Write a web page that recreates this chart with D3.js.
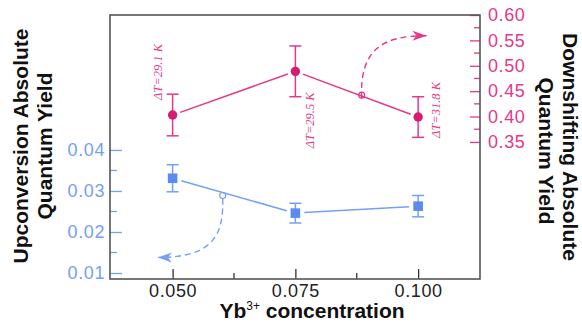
<!DOCTYPE html>
<html>
<head>
<meta charset="utf-8">
<script src="https://cdn.jsdelivr.net/npm/d3@7"></script>
<style>
  body { margin: 0; background: #fff; }
  svg { display: block; font-family: 'Liberation Sans', Arial, sans-serif; }
</style>
</head>
<body>
<main></main>
<script>
const concentrations = [0.05, 0.075, 0.1];
const upconversion = [0.0331, 0.0246, 0.0263];
const upconversionErr = [0.0033, 0.0024, 0.0026];
const downshifting = [0.403, 0.489, 0.399];
const downshiftingErr = [0.041, 0.05, 0.04];
const deltaT = ['ΔT=29.1 K', 'ΔT=29.5 K', 'ΔT=31.8 K'];

const xTicks = [0.05, 0.075, 0.1];
const xMinorTicks = [0.0625, 0.0875];
const leftTicks = [0.01, 0.02, 0.03, 0.04];
const leftMinorTicks = [0.015, 0.025, 0.035];
const rightTicks = [0.35, 0.4, 0.45, 0.5, 0.55, 0.6];
const rightMinorTicks = [0.375, 0.425, 0.475, 0.525, 0.575];

// arrows in data units: start, control 1, control 2, tip
const pinkArrow = [[0.0885, 0.442], [0.0881, 0.53], [0.0925, 0.56], [0.1017, 0.559]];
const blueArrow = [[0.0602, 0.0289], [0.0604, 0.0195], [0.0585, 0.0138], [0.047, 0.0138]];

const pink = '#e5388a';
const pinkDark = '#d81b72';
const blue = '#74a0f5';
const blueDark = '#5b8bef';

const dimensions = {
  width: 582,
  height: 325,
  margin: { top: 15, right: 102, bottom: 46, left: 110 },
};
dimensions.boundedWidth =
  dimensions.width - (dimensions.margin.left + dimensions.margin.right);
dimensions.boundedHeight =
  dimensions.height - (dimensions.margin.top + dimensions.margin.bottom);

const xScale = d3
  .scaleLinear()
  .domain([0.03725, 0.1126])
  .range([0, dimensions.boundedWidth]);

const yLeft = d3
  .scaleLinear()
  .domain([0.00854, 0.0729])
  .range([dimensions.boundedHeight, 0]);

const yRight = d3
  .scaleLinear()
  .domain([0.08, 0.6])
  .range([dimensions.boundedHeight, 0]);

const svg = d3
  .select('main')
  .append('svg')
  .attr('width', dimensions.width)
  .attr('height', dimensions.height);

const bounds = svg
  .append('g')
  .attr('transform', `translate(${dimensions.margin.left} ${dimensions.margin.top})`);

const axisFont = 18;

// bottom axis, ticks pointing inward
const xAxisGroup = bounds
  .append('g')
  .attr('transform', `translate(0 ${dimensions.boundedHeight})`)
  .call(
    d3.axisBottom(xScale)
      .tickValues(xTicks)
      .tickSize(-10)
      .tickPadding(5)
      .tickFormat(d3.format('.3f'))
  );
xAxisGroup
  .selectAll('line.minor')
  .data(xMinorTicks)
  .join('line')
  .attr('class', 'minor')
  .attr('x1', d => xScale(d))
  .attr('x2', d => xScale(d))
  .attr('y1', 0)
  .attr('y2', -6)
  .attr('stroke', '#333')
  .attr('stroke-width', 1.3);
xAxisGroup.selectAll('.tick line').attr('stroke', '#333').attr('stroke-width', 1.3);
xAxisGroup
  .selectAll('text')
  .attr('fill', '#222')
  .attr('font-size', axisFont)
  .attr('font-family', "'Liberation Sans', Arial, sans-serif")
  .attr('letter-spacing', 0.6);

// left axis (blue)
const leftAxisGroup = bounds.append('g').call(
  d3.axisLeft(yLeft)
    .tickValues(leftTicks)
    .tickSize(-12)
    .tickPadding(5)
    .tickFormat(d3.format('.2f'))
);
leftAxisGroup
  .selectAll('line.minor')
  .data(leftMinorTicks)
  .join('line')
  .attr('class', 'minor')
  .attr('x1', 0)
  .attr('x2', 7)
  .attr('y1', d => yLeft(d))
  .attr('y2', d => yLeft(d))
  .attr('stroke', blue)
  .attr('stroke-width', 1.3);
leftAxisGroup.selectAll('.tick line').attr('stroke', blue).attr('stroke-width', 1.3);
leftAxisGroup
  .selectAll('text')
  .attr('fill', blue)
  .attr('font-size', axisFont)
  .attr('font-family', "'Liberation Sans', Arial, sans-serif")
  .attr('letter-spacing', 0.6);

// right axis (pink)
const rightAxisGroup = bounds
  .append('g')
  .attr('transform', `translate(${dimensions.boundedWidth} 0)`)
  .call(
    d3.axisRight(yRight)
      .tickValues(rightTicks)
      .tickSize(-10)
      .tickPadding(8)
      .tickFormat(d3.format('.2f'))
  );
rightAxisGroup
  .selectAll('line.minor')
  .data(rightMinorTicks)
  .join('line')
  .attr('class', 'minor')
  .attr('x1', 0)
  .attr('x2', -6)
  .attr('y1', d => yRight(d))
  .attr('y2', d => yRight(d))
  .attr('stroke', pink)
  .attr('stroke-width', 1.3);
rightAxisGroup.selectAll('.tick line').attr('stroke', pink).attr('stroke-width', 1.3);
rightAxisGroup
  .selectAll('text')
  .attr('fill', pink)
  .attr('font-size', axisFont)
  .attr('font-family', "'Liberation Sans', Arial, sans-serif")
  .attr('letter-spacing', 0.6);

bounds.selectAll('path.domain').remove();

// frame
bounds
  .append('rect')
  .attr('width', dimensions.boundedWidth)
  .attr('height', dimensions.boundedHeight)
  .attr('fill', 'none')
  .attr('stroke', '#555')
  .attr('stroke-width', 1.6);

// connecting lines with a small gap at each marker
const drawSegments = (values, yScale, color, gap) => {
  const pts = values.map((v, i) => [xScale(concentrations[i]), yScale(v)]);
  d3.pairs(pts).forEach(([a, b]) => {
    const dx = b[0] - a[0];
    const dy = b[1] - a[1];
    const len = Math.hypot(dx, dy);
    bounds
      .append('line')
      .attr('x1', a[0] + (dx / len) * gap)
      .attr('y1', a[1] + (dy / len) * gap)
      .attr('x2', b[0] - (dx / len) * gap)
      .attr('y2', b[1] - (dy / len) * gap)
      .attr('stroke', color)
      .attr('stroke-width', 1.5);
  });
};

const drawErrors = (values, errs, yScale, color) => {
  const g = bounds.append('g').attr('stroke', color).attr('stroke-width', 1.5);
  values.forEach((v, i) => {
    const x = xScale(concentrations[i]);
    const y0 = yScale(v - errs[i]);
    const y1 = yScale(v + errs[i]);
    g.append('line').attr('x1', x).attr('x2', x).attr('y1', y0).attr('y2', y1);
    g.append('line').attr('x1', x - 6).attr('x2', x + 6).attr('y1', y0).attr('y2', y0);
    g.append('line').attr('x1', x - 6).attr('x2', x + 6).attr('y1', y1).attr('y2', y1);
  });
};

drawSegments(downshifting, yRight, pink, 8);
drawSegments(upconversion, yLeft, blue, 9);
drawErrors(downshifting, downshiftingErr, yRight, pink);
drawErrors(upconversion, upconversionErr, yLeft, blue);

bounds
  .selectAll('circle.ds')
  .data(downshifting)
  .join('circle')
  .attr('class', 'ds')
  .attr('cx', (d, i) => xScale(concentrations[i]))
  .attr('cy', d => yRight(d))
  .attr('r', 4.7)
  .attr('fill', pinkDark);

bounds
  .selectAll('rect.uc')
  .data(upconversion)
  .join('rect')
  .attr('class', 'uc')
  .attr('x', (d, i) => xScale(concentrations[i]) - 4.8)
  .attr('y', d => yLeft(d) - 4.8)
  .attr('width', 9.6)
  .attr('height', 9.6)
  .attr('fill', blueDark);

// ΔT labels
const labelOffsets = [[-11, -15], [19, 77], [22, 21]];
bounds
  .selectAll('text.dt')
  .data(deltaT)
  .join('text')
  .attr('class', 'dt')
  .attr('transform', (d, i) => {
    const x = xScale(concentrations[i]) + labelOffsets[i][0];
    const y = yRight(downshifting[i]) + labelOffsets[i][1];
    return `translate(${x} ${y}) rotate(-90)`;
  })
  .attr('fill', pink)
  .attr('font-family', "'Liberation Serif', 'Times New Roman', serif")
  .attr('font-style', 'italic')
  .attr('font-size', 12.5)
  .text(d => d);

// dashed curved arrows
const drawArrow = (pts, yScale, color) => {
  const p = pts.map(([x, y]) => [xScale(x), yScale(y)]);
  const path = d3.path();
  path.moveTo(p[0][0], p[0][1] + 3);
  path.bezierCurveTo(p[1][0], p[1][1], p[2][0], p[2][1], p[3][0], p[3][1]);
  bounds
    .append('path')
    .attr('d', path.toString())
    .attr('fill', 'none')
    .attr('stroke', color)
    .attr('stroke-width', 1.4)
    .attr('stroke-dasharray', '6 4');
  bounds
    .append('circle')
    .attr('cx', p[0][0])
    .attr('cy', p[0][1])
    .attr('r', 3)
    .attr('fill', 'none')
    .attr('stroke', color)
    .attr('stroke-width', 1.2);
  const angle = (Math.atan2(p[3][1] - p[2][1], p[3][0] - p[2][0]) * 180) / Math.PI;
  bounds
    .append('path')
    .attr('d', 'M 0 0 L -14 -5 L -10 0 L -14 5 Z')
    .attr('transform', `translate(${p[3][0]} ${p[3][1]}) rotate(${angle})`)
    .attr('fill', color);
};

drawArrow(pinkArrow, yRight, pink);
drawArrow(blueArrow, yLeft, blue);

// axis titles
const titleFont = 21;
const leftTitle = svg
  .append('text')
  .attr('transform', 'translate(0 146) rotate(-90)')
  .attr('text-anchor', 'middle')
  .attr('font-weight', 'bold')
  .attr('font-size', titleFont)
  .attr('fill', '#111');
leftTitle.append('tspan').attr('x', 0).attr('y', 28).text('Upconversion Absolute');
leftTitle.append('tspan').attr('x', 0).attr('y', 52).text('Quantum Yield');

const rightTitle = svg
  .append('text')
  .attr('transform', 'translate(0 147) rotate(90)')
  .attr('text-anchor', 'middle')
  .attr('font-weight', 'bold')
  .attr('font-size', titleFont)
  .attr('fill', '#111');
rightTitle.append('tspan').attr('x', 0).attr('y', -563).text('Downshifting Absolute');
rightTitle.append('tspan').attr('x', 4).attr('y', -539).text('Quantum Yield');

const xTitle = svg
  .append('text')
  .attr('x', 312)
  .attr('y', 318)
  .attr('text-anchor', 'middle')
  .attr('font-weight', 'bold')
  .attr('font-size', titleFont)
  .attr('fill', '#111');
xTitle.append('tspan').text('Yb');
xTitle
  .append('tspan')
  .attr('font-size', 12)
  .attr('font-weight', 'normal')
  .attr('dy', -8)
  .text('3+');
xTitle.append('tspan').attr('dy', 8).text(' concentration');
</script>
</body>
</html>
